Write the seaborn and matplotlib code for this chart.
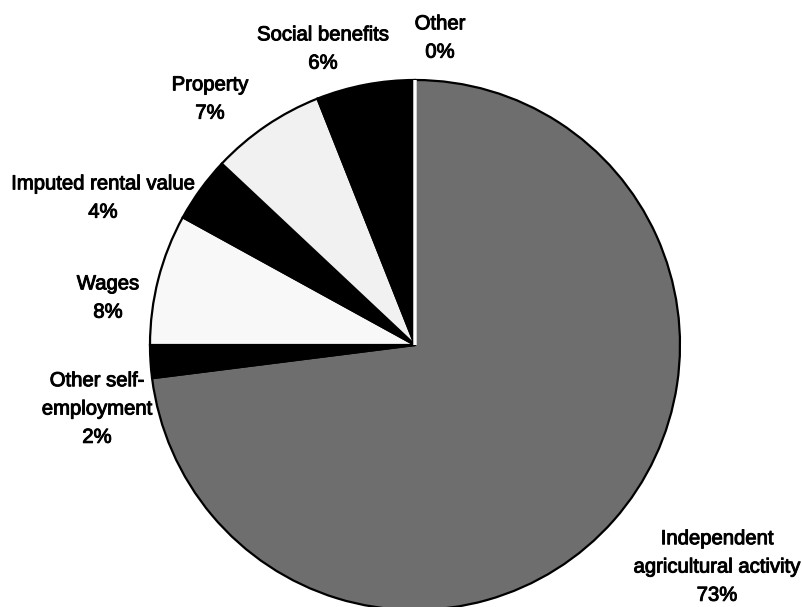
import matplotlib
matplotlib.use("Agg")
import matplotlib.pyplot as plt
import matplotlib.patheffects as pe
import seaborn as sns

# Income sources, clockwise from 12 o'clock
categories = [
    "Independent\nagricultural activity",
    "Other self-\nemployment",
    "Wages",
    "Imputed rental value",
    "Property",
    "Social benefits",
    "Other",
]
shares = [73, 2, 8, 4, 7, 6, 0]

# Slice fills: halftone grey, black and near-white alternating
fills = ["#6e6e6e", "#000000", "#f8f8f8", "#000000", "#f1f1f1", "#000000", "#ffffff"]

# Label anchor points (pixels from the top-left corner)
label_xy = [(717, 567), (97, 409), (108, 298), (103, 198), (210, 99), (323, 49), (440, 38)]

sns.set_style("white")
plt.rcParams["font.family"] = ["Liberation Sans", "DejaVu Sans"]

W, H = 803, 607
fig = plt.figure(figsize=(W / 100, H / 100), dpi=100)
ax = fig.add_axes([0, 0, 1, 1])

wedges, _ = ax.pie(
    shares,
    colors=fills,
    startangle=90,
    counterclock=False,
    center=(415, H - 345),
    radius=265,
    frame=True,
    wedgeprops=dict(edgecolor="black", linewidth=1.6),
)
# the zero-share slice shows as a thin white spoke
wedges[-1].set_edgecolor("white")
wedges[-1].set_linewidth(2.5)
wedges[-1].set_zorder(3)
ax.set_xlim(0, W)
ax.set_ylim(0, H)
ax.set_axis_off()

for cat, val, (x, y) in zip(categories, shares, label_xy):
    ax.text(x, H - y, f"{cat}\n{val}%", ha="center", va="center",
            fontsize=14.6, linespacing=1.62, color="black",
            path_effects=[pe.withStroke(linewidth=0.7, foreground="black")])

fig.savefig("out.png", dpi=100)
